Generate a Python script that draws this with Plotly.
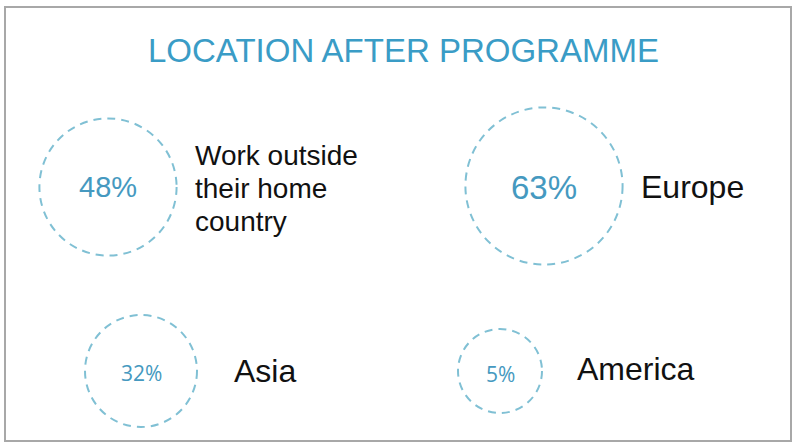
import math
import plotly.graph_objects as go

# ---- data ----
title_text = "LOCATION AFTER PROGRAMME"
values = [48, 63, 32, 5]
value_labels = ["48%", "63%", "32%", "5%"]
categories = ["Work outside<br>their home<br>country", "Europe", "Asia", "America"]

# ---- layout (pixel coordinates on a 796x444 canvas) ----
W, H = 796, 444
centers = [(108, 187), (544, 186), (141, 371), (500, 371)]
pct_y = [187, 187, 373, 374]
label_x = [193, 639, 232, 575]
label_y = [155, 187, 371, 369]
line_step = 33
pct_sizes = [29, 33, 21, 21]
pct_fonts = ["Liberation Sans, Arial", "Liberation Sans, Arial", "Open Sans", "Open Sans"]
label_sizes = [28, 32, 32, 32]

circle_color = "#80c0d4"
pct_color = "#4599c0"
title_color = "#3a9cc6"

def radius(v):
    return max(42.0, 9.9 * math.sqrt(v))

fig = go.Figure()
fig.add_trace(go.Scatter(x=[0, W], y=[0, H], mode="markers",
                         marker=dict(opacity=0), hoverinfo="skip", showlegend=False))

shapes = []
# frame
shapes.append(dict(type="rect", xref="x", yref="y", x0=5, y0=7, x1=791, y1=441,
                   line=dict(color="#a8a8a8", width=2), fillcolor="rgba(0,0,0,0)"))
annotations = []
annotations.append(dict(x=403, y=50, xref="x", yref="y", text=title_text, showarrow=False,
                        font=dict(family="Liberation Sans, Arial", size=33, color=title_color),
                        xanchor="center", yanchor="middle"))

for i, v in enumerate(values):
    cx, cy = centers[i]
    r = radius(v)
    shapes.append(dict(type="circle", xref="x", yref="y",
                       x0=cx - r, x1=cx + r, y0=cy - r, y1=cy + r,
                       line=dict(color=circle_color, width=2, dash="8px,6px"),
                       fillcolor="rgba(0,0,0,0)"))
    annotations.append(dict(x=cx, y=pct_y[i], xref="x", yref="y", text=value_labels[i],
                            showarrow=False, xanchor="center", yanchor="middle",
                            font=dict(family=pct_fonts[i], size=pct_sizes[i], color=pct_color)))
    for j, line in enumerate(categories[i].split("<br>")):
        annotations.append(dict(x=label_x[i], y=label_y[i] + j * line_step, xref="x", yref="y",
                                text=line, showarrow=False, xanchor="left", yanchor="middle",
                                align="left",
                                font=dict(family="Liberation Sans, Arial", size=label_sizes[i],
                                          color="#111111")))

fig.update_layout(
    width=W, height=H,
    margin=dict(l=0, r=0, t=0, b=0),
    paper_bgcolor="white", plot_bgcolor="white",
    xaxis=dict(range=[0, W], visible=False, fixedrange=True),
    yaxis=dict(range=[H, 0], visible=False, fixedrange=True),
    shapes=shapes, annotations=annotations, showlegend=False,
)

fig.write_html("out.html", config={"displayModeBar": False})
